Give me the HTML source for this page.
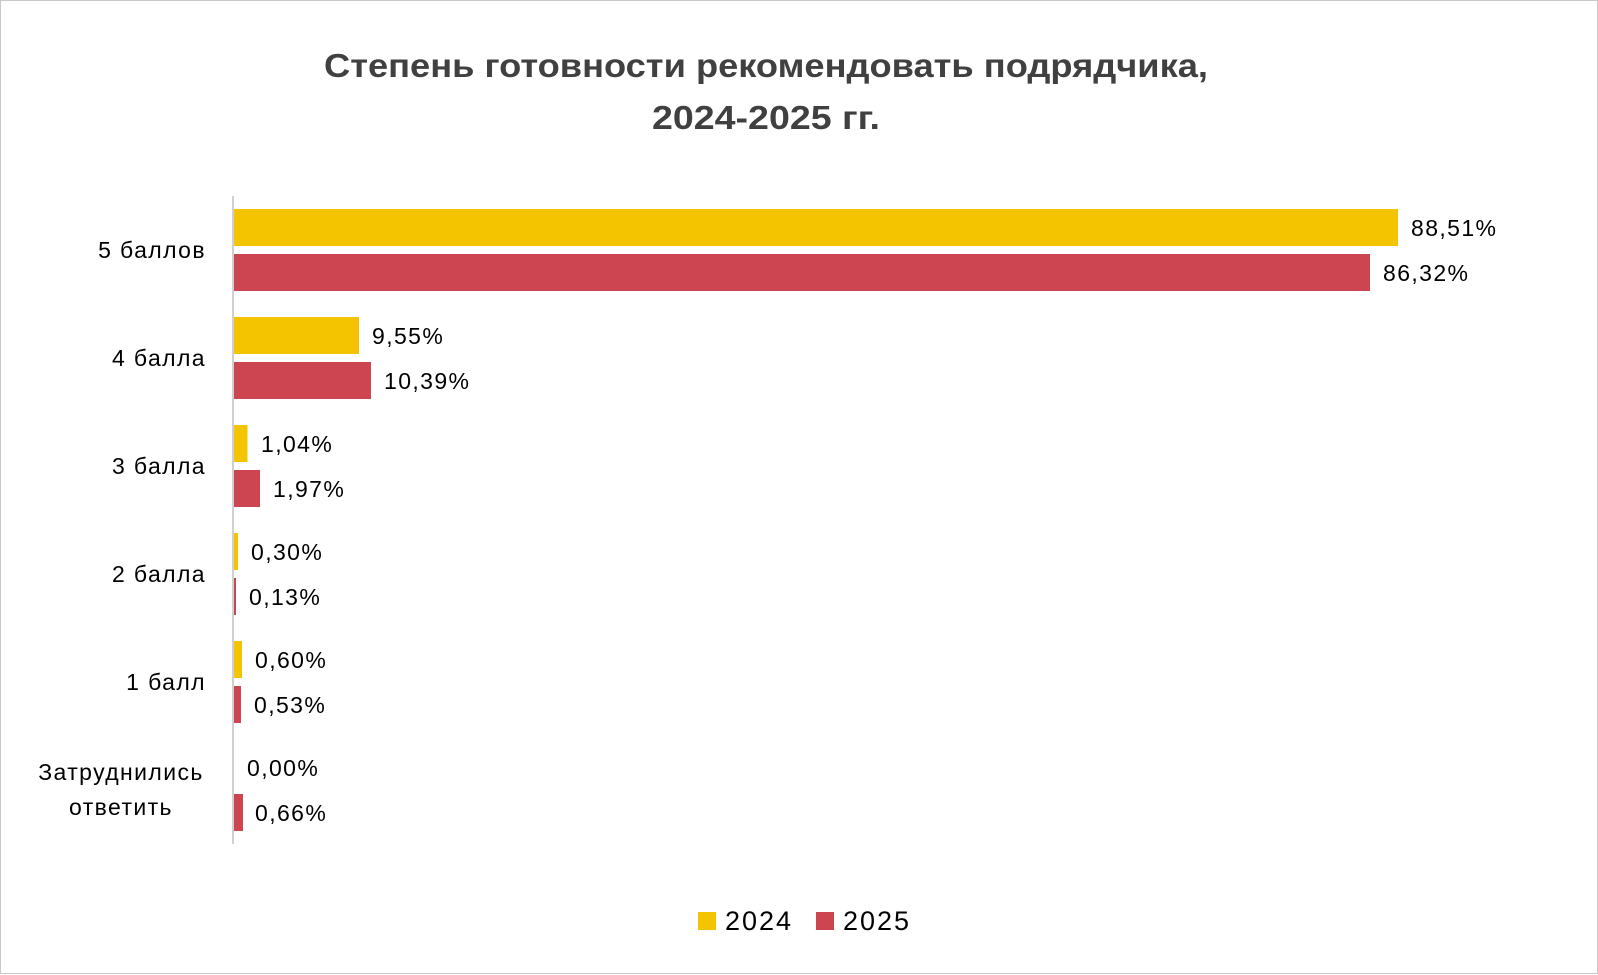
<!DOCTYPE html>
<html><head><meta charset="utf-8"><style>
html,body{margin:0;padding:0;background:#fff}
svg{display:block}
text{font-family:"Liberation Sans","DejaVu Sans",sans-serif}
</style></head><body>
<svg width="1598" height="975" xmlns="http://www.w3.org/2000/svg">
<rect x="0.5" y="0.5" width="1597" height="973" fill="#fff" stroke="#c8c8c8"/>
<text x="766" y="77" font-size="33" font-weight="bold" fill="#404040" text-anchor="middle" textLength="884" lengthAdjust="spacingAndGlyphs">Степень готовности рекомендовать подрядчика,</text>
<text x="766" y="129" font-size="33" font-weight="bold" fill="#404040" text-anchor="middle" textLength="228" lengthAdjust="spacingAndGlyphs">2024-2025 гг.</text>
<line x1="233" y1="196" x2="233" y2="844" stroke="#d0d0d0" stroke-width="2"/>
<g font-size="23" fill="#000" letter-spacing="1.4">
<rect x="234" y="209" width="1164" height="37" fill="#F5C400"/>
<rect x="234" y="254" width="1136" height="37" fill="#CC4550"/>
<text x="1411" y="236">88,51%</text>
<text x="1383" y="281">86,32%</text>
<text x="206" y="258" text-anchor="end">5 баллов</text>
<rect x="234" y="317" width="125" height="37" fill="#F5C400"/>
<rect x="234" y="362" width="137" height="37" fill="#CC4550"/>
<text x="372" y="344">9,55%</text>
<text x="384" y="389">10,39%</text>
<text x="206" y="366" text-anchor="end">4 балла</text>
<rect x="234" y="425" width="13.5" height="37" fill="#F5C400"/>
<rect x="234" y="470" width="26" height="37" fill="#CC4550"/>
<text x="261" y="452">1,04%</text>
<text x="273" y="497">1,97%</text>
<text x="206" y="474" text-anchor="end">3 балла</text>
<rect x="234" y="533" width="4" height="37" fill="#F5C400"/>
<rect x="234" y="578" width="2" height="37" fill="#CC4550"/>
<text x="251" y="560">0,30%</text>
<text x="249" y="605">0,13%</text>
<text x="206" y="582" text-anchor="end">2 балла</text>
<rect x="234" y="641" width="8" height="37" fill="#F5C400"/>
<rect x="234" y="686" width="7" height="37" fill="#CC4550"/>
<text x="255" y="668">0,60%</text>
<text x="254" y="713">0,53%</text>
<text x="206" y="690" text-anchor="end">1 балл</text>
<rect x="234" y="794" width="9" height="37" fill="#CC4550"/>
<text x="247" y="776">0,00%</text>
<text x="255" y="821">0,66%</text>
<text x="121" y="780" text-anchor="middle">Затруднились</text>
<text x="121" y="815" text-anchor="middle">ответить</text>
</g>
<rect x="698" y="912" width="18" height="18" fill="#F5C400"/>
<text x="725" y="930" font-size="27" fill="#000" letter-spacing="2">2024</text>
<rect x="816" y="912" width="18" height="18" fill="#CC4550"/>
<text x="843" y="930" font-size="27" fill="#000" letter-spacing="2">2025</text>
</svg>
</body></html>
